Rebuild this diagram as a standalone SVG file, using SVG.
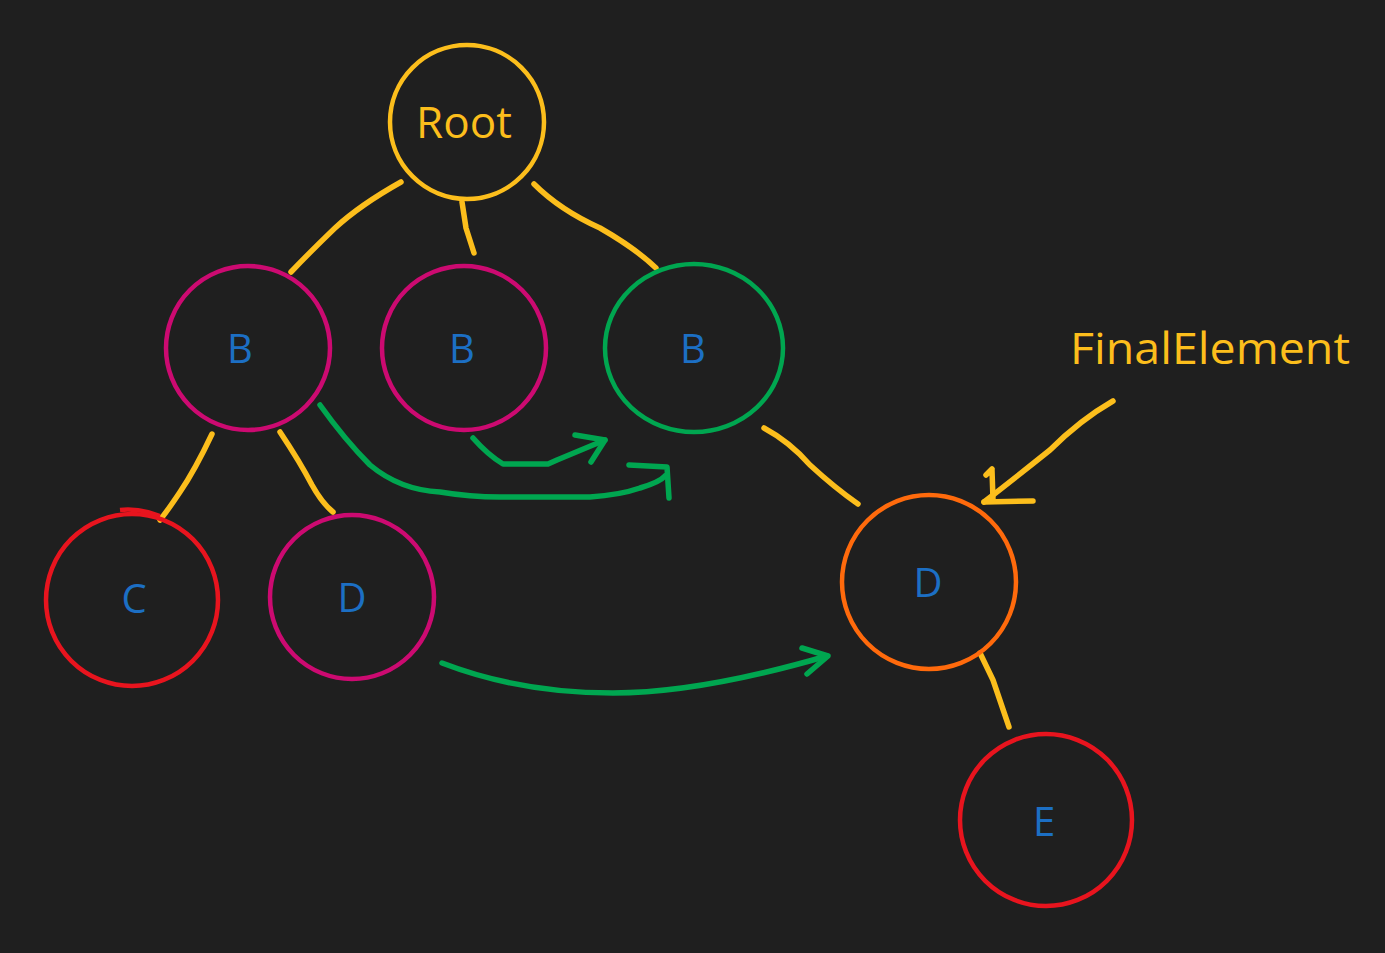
<svg xmlns="http://www.w3.org/2000/svg" width="1385" height="953" viewBox="0 0 1385 953">
<style>
.bg{fill:#1f1f1f}
.n{fill:none;stroke-width:4.5}
.lbl{font-family:"Open Sans","Liberation Sans",sans-serif;font-size:40px;fill:#1c6fc4;text-anchor:middle;dominant-baseline:central}
.yl{fill:none;stroke:#fcbe1c;stroke-width:5.5;stroke-linecap:round;stroke-linejoin:round}
.gr{fill:none;stroke:#00a650;stroke-width:5.5;stroke-linecap:round;stroke-linejoin:round}
.ytxt{font-family:"Open Sans","Liberation Sans",sans-serif;fill:#fcbe1c}
</style>
<rect class="bg" x="0" y="0" width="1385" height="953"/>
<g id="connectors">
<path class="yl" d="M401,182 Q360,205 335,228 Q310,252 291,272"/>
<path class="yl" d="M462,202 L466,228 L474,253"/>
<path class="yl" d="M534,184 Q560,210 600,228 Q635,248 656,268"/>
<path class="yl" d="M212,434 Q195,470 180,492 Q168,510 160,520"/>
<path class="yl" d="M280,432 Q300,462 312,485 Q322,503 333,512"/>
<path class="yl" d="M764,428 Q790,442 810,465 Q835,488 858,504"/>
<path class="yl" d="M980,653 L993,680 L1009,727"/>
<path class="yl" d="M1113,401 Q1080,420 1050,450 Q1015,478 984,502"/>
<path class="yl" d="M984,502 L1033,501"/>
<path class="yl" d="M992,470 L993,500 M986,475 L992,469"/>
<path class="gr" d="M473,438 Q488,455 503,464 L548,464 L557,460 L605,440"/>
<path class="gr" d="M575,435 L605,440 L591,462"/>
<path class="gr" d="M320,405 Q345,440 370,465 Q400,490 440,492 Q470,497 500,497 L590,497 Q620,495 640,488 Q660,482 665,476"/>
<path class="gr" d="M629,465 L667,467 L669,498"/>
<path class="gr" d="M442,663 Q520,693 613,693 Q700,693 827,656"/>
<path class="gr" d="M802,648 L828,656 L807,674"/>
</g>
<g id="node-root">
<circle class="n" cx="467" cy="122" r="77" stroke="#fcbe1c"/>
<text x="464" y="121" class="ytxt" font-size="44" text-anchor="middle" dominant-baseline="central">Root</text>
</g>
<g id="node-b1">
<circle class="n" cx="248" cy="348" r="82" stroke="#cc0a71"/>
<text class="lbl" x="240" y="347">B</text>
</g>
<g id="node-b2">
<circle class="n" cx="464" cy="348" r="82" stroke="#cc0a71"/>
<text class="lbl" x="462" y="347">B</text>
</g>
<g id="node-b3">
<ellipse class="n" cx="694" cy="348" rx="89" ry="84" stroke="#00a650"/>
<text class="lbl" x="693" y="347">B</text>
</g>
<g id="node-c">
<circle class="n" cx="132" cy="600" r="86" stroke="#e8141e"/>
<path class="n" stroke="#e8141e" d="M120,510 Q140,508 160,516"/>
<text class="lbl" x="134" y="597">C</text>
</g>
<g id="node-d1">
<circle class="n" cx="352" cy="597" r="82" stroke="#cc0a71"/>
<text class="lbl" x="352" y="596">D</text>
</g>
<g id="node-d2">
<circle class="n" cx="929" cy="582" r="87" stroke="#ff6a0c"/>
<text class="lbl" x="928" y="581">D</text>
</g>
<g id="node-e">
<circle class="n" cx="1046" cy="820" r="86" stroke="#e8141e"/>
<text class="lbl" x="1044" y="820">E</text>
</g>
<g id="label-final">
<text class="ytxt" x="1070" y="364" font-size="44" textLength="280" lengthAdjust="spacingAndGlyphs">FinalElement</text>
</g>
</svg>
